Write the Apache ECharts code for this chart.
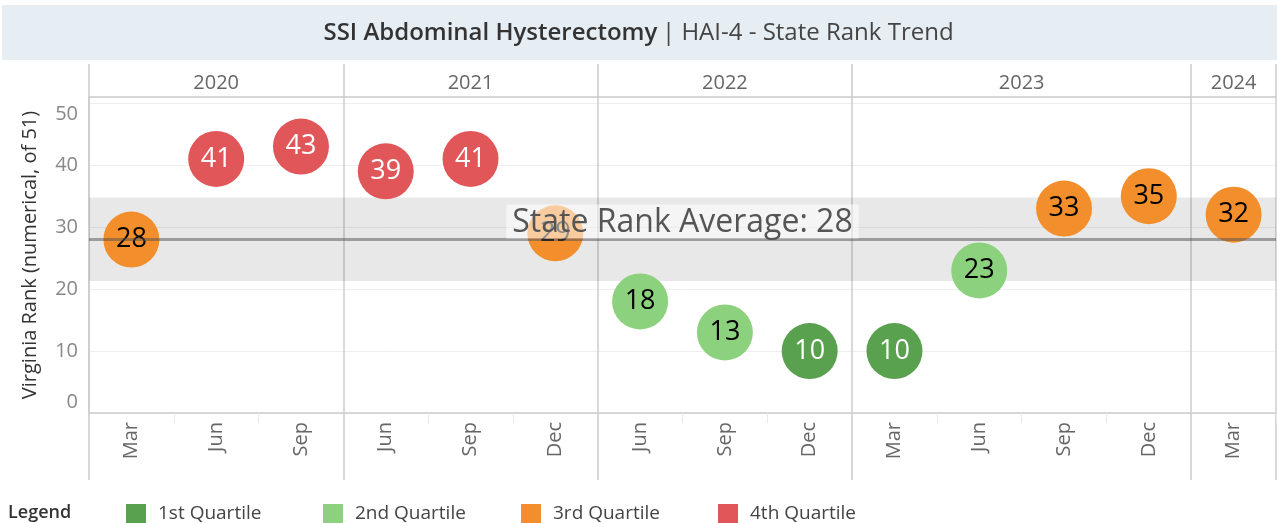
<!DOCTYPE html>
<html>
<head>
<meta charset="utf-8">
<script src="https://cdn.jsdelivr.net/npm/echarts@6/dist/echarts.min.js"></script>
<style>
  html, body { margin: 0; padding: 0; background: #fff; }
  #chart { width: 1277px; height: 523px; }
</style>
</head>
<body>
<div id="chart"></div>
<script>
  // data
  const months = ['Mar', 'Jun', 'Sep', 'Jun', 'Sep', 'Dec', 'Jun', 'Sep', 'Dec', 'Mar', 'Jun', 'Sep', 'Dec', 'Mar']
  const years = ['2020', '2021', '2022', '2023', '2024']
  const yearStarts = [0, 3, 6, 9, 13]
  const ranks = [28, 41, 43, 39, 41, 29, 18, 13, 10, 10, 23, 33, 35, 32]
  const quartiles = [3, 4, 4, 4, 4, 3, 2, 2, 1, 1, 2, 3, 3, 3]
  const quartileNames = ['1st Quartile', '2nd Quartile', '3rd Quartile', '4th Quartile']
  const stateAverage = 28
  const bandRange = [21.3, 34.8]
  const yTicks = [0, 10, 20, 30, 40, 50]

  const quartileColors = ['#59a14f', '#8cd17d', '#f28e2b', '#e15759']
  const labelColors = ['#fff', '#000', '#000', '#fff']
  const legendLefts = [121, 318, 516, 713]

  const isYearStart = (i) => yearStarts.indexOf(i) > -1
  const yearEdges = yearStarts.concat([months.length])
  const yearCenters = years.map((y, i) => (yearEdges[i] + yearEdges[i + 1]) / 2)

  const chart = echarts.init(document.getElementById('chart'))

  const scatterSeries = quartileNames.map((name, q) => ({
    type: 'scatter',
    name: name,
    xAxisIndex: 0,
    data: ranks.map((r, i) => (quartiles[i] === q + 1 ? r : '-')),
    symbolSize: 56,
    itemStyle: { color: quartileColors[q], opacity: 1 },
    label: {
      show: true,
      position: 'inside',
      formatter: '{c}',
      fontSize: 27,
      color: labelColors[q]
    },
    emphasis: { disabled: true },
    z: 3
  }))

  // one legend per quartile so the items sit on a fixed pitch
  const legends = quartileNames.map((name, q) => ({
    data: [name],
    left: legendLefts[q],
    top: 499,
    icon: 'rect',
    itemWidth: 20,
    itemHeight: 20,
    selectedMode: false,
    textStyle: { fontSize: 19, color: '#444', padding: [0, 0, 0, 7] }
  }))

  const option = {
    animation: false,
    textStyle: { fontFamily: 'Open Sans' },
    graphic: [{
      type: 'rect',
      left: 2,
      top: 5,
      shape: { width: 1275, height: 55 },
      style: { fill: '#e6eef4' },
      z: -1
    }],
    title: [
      {
        text: '{b|SSI Abdominal Hysterectomy} {n|| HAI-4 - State Rank Trend}',
        left: 'center',
        top: 16,
        textStyle: {
          fontWeight: 'normal',
          rich: {
            b: { fontSize: 24, fontWeight: 600, color: '#333', fontFamily: 'Open Sans' },
            n: { fontSize: 24, fontWeight: 'normal', color: '#444', fontFamily: 'Open Sans' }
          }
        }
      },
      {
        text: 'Legend',
        left: 3,
        top: 499,
        textStyle: { fontSize: 18, fontWeight: 600, color: '#333' }
      }
    ],
    legend: legends,
    grid: { left: 89, right: 1, top: 97, bottom: 110 },
    xAxis: [
      {
        type: 'category',
        data: months,
        position: 'bottom',
        axisLine: { lineStyle: { color: '#ccc', width: 1.5 } },
        axisTick: { show: true, interval: isYearStart, length: 67, lineStyle: { color: '#ccc', width: 1.5 } },
        splitLine: { show: true, interval: isYearStart, lineStyle: { color: '#ccc', width: 1.5 } },
        axisLabel: { rotate: 90, interval: 0, margin: 9, fontSize: 20, color: '#666' }
      },
      {
        type: 'category',
        data: months,
        position: 'bottom',
        axisLine: { show: false },
        axisTick: { show: true, interval: (i) => !isYearStart(i), length: 10, lineStyle: { color: '#e8e8e8' } },
        axisLabel: { show: false },
        splitLine: { show: false }
      },
      {
        type: 'value',
        position: 'top',
        min: 0,
        max: months.length,
        axisLine: { lineStyle: { color: '#ccc', width: 1.5 } },
        axisTick: { show: true, customValues: yearEdges, length: 33, lineStyle: { color: '#ccc', width: 1.5 } },
        axisLabel: {
          customValues: yearCenters,
          formatter: (v) => years[yearCenters.indexOf(v)],
          fontSize: 20,
          color: '#666',
          margin: 4
        },
        splitLine: { show: false }
      }
    ],
    yAxis: {
      type: 'value',
      min: 0,
      max: 51,
      interval: 10,
      name: 'Virginia Rank (numerical, of 51)',
      nameLocation: 'middle',
      nameGap: 49,
      nameTextStyle: { fontSize: 20, color: '#333' },
      axisLine: { show: true, lineStyle: { color: '#ccc', width: 1.5 } },
      axisTick: { show: false },
      splitLine: { lineStyle: { color: '#eeeeee' } },
      axisLabel: {
        showMaxLabel: false,
        margin: 11,
        fontSize: 20,
        color: '#888',
        formatter: (v) => {
          if (v === yTicks[0]) return '{lo|' + v + '}'
          if (v === yTicks[yTicks.length - 1]) return '{hi|' + v + '}'
          return String(v)
        },
        rich: {
          lo: { fontSize: 20, color: '#888', padding: [0, 0, 22, 0] },
          hi: { fontSize: 20, color: '#888', padding: [22, 0, 0, 0] }
        }
      }
    },
    series: [
      {
        type: 'line',
        name: 'band',
        data: [],
        z: 1,
        markArea: {
          silent: true,
          itemStyle: { color: 'rgba(0,0,0,0.09)' },
          data: [[{ yAxis: bandRange[0] }, { yAxis: bandRange[1] }]]
        }
      },
      ...scatterSeries,
      {
        type: 'line',
        name: 'average',
        data: [],
        z: 5,
        markLine: {
          silent: true,
          symbol: 'none',
          data: [{ yAxis: stateAverage }],
          lineStyle: { color: 'rgba(80,80,80,0.5)', width: 3, type: 'solid' },
          label: {
            show: true,
            position: 'insideMiddleTop',
            distance: 1,
            formatter: 'State Rank Average: ' + stateAverage,
            fontSize: 32,
            color: '#555',
            backgroundColor: 'rgba(255,255,255,0.55)',
            padding: [2, 6, 0, 6]
          },
          emphasis: { disabled: true }
        }
      }
    ]
  }

  chart.setOption(option)
</script>
</body>
</html>
